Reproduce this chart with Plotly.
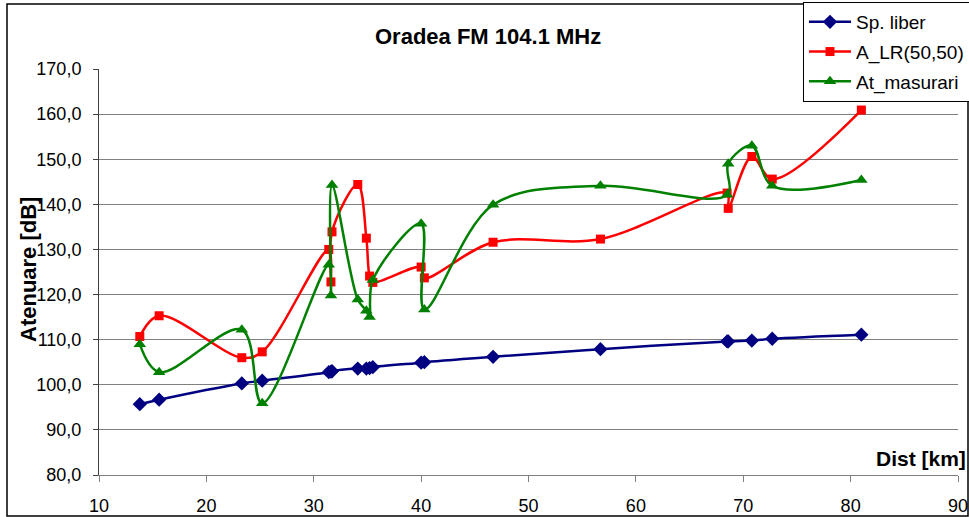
import plotly.graph_objects as go

dist_km = [13.8, 15.6, 23.3, 25.2, 31.4, 31.6, 31.7, 34.1, 34.9, 35.2, 35.5,
           40.0, 40.3, 46.7, 56.7, 68.5, 68.6, 70.8, 72.7, 81.0]
sp_liber = [95.7, 96.7, 100.3, 100.9, 102.8, 102.9, 103.0, 103.6, 103.6, 103.7, 103.9,
            104.9, 105.0, 106.2, 107.9, 109.6, 109.6, 109.8, 110.2, 111.1]
a_lr = [110.7, 115.3, 106.0, 107.3, 130.0, 122.8, 133.9, 144.4, 132.5, 124.1, 122.7,
        126.1, 123.7, 131.6, 132.3, 142.5, 139.1, 150.6, 145.6, 160.9]
at_masurari = [109.0, 102.8, 112.2, 95.9, 126.6, 119.8, 144.3, 118.9, 116.4, 115.0, 123.2,
               135.7, 116.7, 139.9, 144.1, 142.1, 149.0, 153.0, 144.1, 145.4]

x_ticks = [10, 20, 30, 40, 50, 60, 70, 80, 90]
y_ticks = [80, 90, 100, 110, 120, 130, 140, 150, 160, 170]

FONT = "Liberation Sans, Arial, sans-serif"

fig = go.Figure()
fig.add_trace(go.Scatter(x=dist_km, y=sp_liber, name="Sp. liber", mode="lines+markers",
                         legendgroup="a",
                         line=dict(color="#000080", width=2.5, shape="spline", smoothing=1),
                         marker=dict(symbol="diamond", size=11, color="#000080")))
fig.add_trace(go.Scatter(x=dist_km, y=a_lr, name="A_LR(50,50)", mode="lines+markers",
                         legendgroup="b",
                         line=dict(color="#FF0000", width=2.5, shape="spline", smoothing=1),
                         marker=dict(symbol="square", size=9, color="#FF0000")))
fig.add_trace(go.Scatter(x=dist_km, y=at_masurari, name="At_masurari", mode="lines+markers",
                         legendgroup="c",
                         line=dict(color="#008000", width=2.5, shape="spline", smoothing=1),
                         marker=dict(symbol="triangle-up", size=11, color="#008000")))

fig.update_layout(
    width=969, height=517,
    margin=dict(l=99, r=11, t=69, b=42, autoexpand=False),
    paper_bgcolor="white", plot_bgcolor="white",
    font=dict(family=FONT, size=18, color="black"),
    separators=",.",
    showlegend=True,
    legend=dict(xref="container", yref="container", x=803/969, y=1 - 2/517,
                xanchor="left", yanchor="top",
                bgcolor="white", bordercolor="black", borderwidth=1,
                font=dict(family=FONT, size=19, color="black"),
                itemwidth=42, tracegroupgap=2),
    xaxis=dict(range=[10, 90], tickvals=x_ticks, showgrid=False,
               showline=True, linecolor="#808080", linewidth=1,
               ticks="outside", ticklen=6, tickcolor="#808080",
               ticklabelstandoff=8, zeroline=False),
    yaxis=dict(range=[80, 170], tickvals=y_ticks, tickformat=".1f",
               showgrid=True, gridcolor="#808080", gridwidth=1,
               showline=True, linecolor="#404040", linewidth=1,
               ticks="outside", ticklen=5, tickcolor="#404040",
               ticklabelstandoff=8, zeroline=False),
    annotations=[
        dict(text="<b>Oradea FM 104.1 MHz</b>", xref="paper", yref="paper",
             x=(488 - 99) / 859, y=(475 - 36) / 406, xanchor="center", yanchor="middle",
             showarrow=False, font=dict(family=FONT, size=22, color="black")),
        dict(text="<b>Atenuare [dB]</b>", xref="paper", yref="paper",
             x=(28 - 99) / 859, y=(475 - 270) / 406, xanchor="center", yanchor="middle",
             showarrow=False, textangle=-90, font=dict(family=FONT, size=22, color="black")),
        dict(text="<b>Dist [km]</b>", xref="paper", yref="paper",
             x=(968 - 99) / 859, y=(475 - 458) / 406, xanchor="right", yanchor="middle",
             showarrow=False, font=dict(family=FONT, size=21, color="black")),
    ],
    shapes=[
        dict(type="rect", xref="paper", yref="paper", x0=(7 - 99) / 859, x1=(968 - 99) / 859,
             y0=(475 - 516) / 406, y1=(475 - 4) / 406, line=dict(color="black", width=1.5),
             fillcolor="rgba(0,0,0,0)", layer="below"),
    ],
)

fig.write_html("out.html")
